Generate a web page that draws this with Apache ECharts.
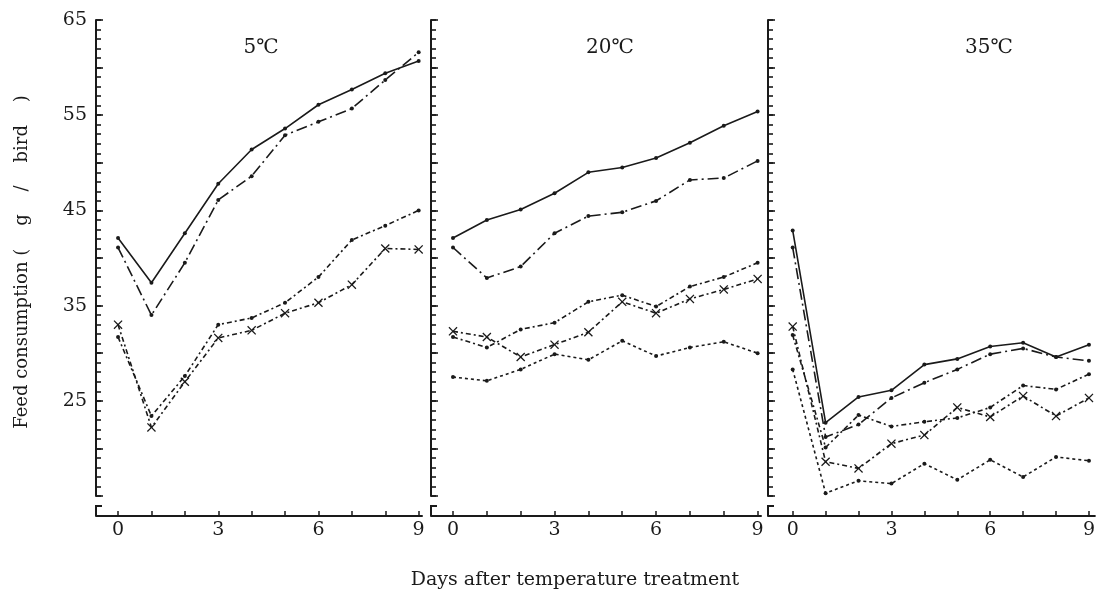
<!DOCTYPE html>
<html>
<head>
<meta charset="utf-8">
<script src="https://cdn.jsdelivr.net/npm/echarts@6/dist/echarts.min.js"></script>
<style>
  html, body { margin: 0; padding: 0; background: #fff; }
  #chart { width: 1098px; height: 593px; }
</style>
</head>
<body>
<div id="chart"></div>
<script>
const days = [0, 1, 2, 3, 4, 5, 6, 7, 8, 9]
const dayLabels = [0, 3, 6, 9]
const yLabels = [25, 35, 45, 55, 65]
const panelTitles = ['5℃', '20℃', '35℃']

// 5℃
const p1Solid = [42.1, 37.4, 42.6, 47.8, 51.4, 53.6, 56.1, 57.7, 59.4, 60.7]
const p1DashDot = [41.1, 34.0, 39.5, 46.1, 48.6, 52.9, 54.3, 55.7, 58.7, 61.6]
const p1DotDash = [31.7, 23.4, 27.6, 33.0, 33.7, 35.3, 38.0, 41.9, 43.4, 45.0]
const p1Cross = [33.0, 22.2, 27.0, 31.6, 32.4, 34.2, 35.3, 37.2, 41.0, 40.9]
const p1Dotted = []
// 20℃
const p2Solid = [42.1, 44.0, 45.1, 46.8, 49.0, 49.5, 50.5, 52.1, 53.9, 55.4]
const p2DashDot = [41.1, 37.9, 39.1, 42.6, 44.4, 44.8, 46.0, 48.2, 48.4, 50.2]
const p2DotDash = [31.7, 30.6, 32.5, 33.2, 35.4, 36.1, 34.9, 37.0, 38.0, 39.5]
const p2Cross = [32.3, 31.7, 29.6, 30.9, 32.2, 35.4, 34.2, 35.7, 36.7, 37.8]
const p2Dotted = [27.5, 27.1, 28.3, 29.9, 29.3, 31.3, 29.7, 30.6, 31.2, 30.0]
// 35℃
const p3Solid = [42.9, 22.7, 25.4, 26.1, 28.8, 29.4, 30.7, 31.1, 29.6, 30.9]
const p3DashDot = [41.1, 21.2, 22.5, 25.3, 26.9, 28.3, 29.9, 30.5, 29.6, 29.2]
const p3DotDash = [31.9, 20.1, 23.5, 22.3, 22.8, 23.2, 24.3, 26.6, 26.2, 27.8]
const p3Cross = [32.8, 18.6, 17.9, 20.5, 21.4, 24.3, 23.3, 25.5, 23.4, 25.3]
const p3Dotted = [28.3, 15.3, 16.6, 16.3, 18.4, 16.7, 18.8, 17.0, 19.1, 18.7]

const panels = [
  [p1Solid, p1DashDot, p1DotDash, p1Cross, p1Dotted],
  [p2Solid, p2DashDot, p2DotDash, p2Cross, p2Dotted],
  [p3Solid, p3DashDot, p3DotDash, p3Cross, p3Dotted]
]

const font = '"DejaVu Serif", "Liberation Serif", "Noto Sans CJK JP", serif'
const ink = '#1a1a1a'
const crossPath = 'path://M0,1L1,0L5,4L9,0L10,1L6,5L10,9L9,10L5,6L1,10L0,9L4,5Z'

// line looks, in the order of the arrays above
const looks = [
  { type: 'solid', symbol: 'circle', size: 4 },
  { type: [11, 4, 2, 4], symbol: 'circle', size: 4 },
  { type: [5, 3, 2, 3], symbol: 'circle', size: 4 },
  { type: [5, 3, 2, 3], symbol: crossPath, size: 9 },
  { type: [3, 3], symbol: 'circle', size: 4 }
]

// grid placement per panel
const boxes = [
  { left: 96, width: 326, min: -0.66, max: 9.1 },
  { left: 431, width: 330, min: -0.65, max: 9.1 },
  { left: 768, width: 330, min: -0.75, max: 9.18 }
]
const gridTop = 20
const gridHeight = 476
const xOffset = 20

const grid = boxes.map(b => ({ left: b.left, width: b.width, top: gridTop, height: gridHeight }))

const xAxis = boxes.map((b, i) => ({
  gridIndex: i,
  type: 'value',
  min: b.min,
  max: b.max,
  offset: xOffset,
  axisLine: { show: true, onZero: false, lineStyle: { color: ink, width: 2 } },
  axisTick: { show: true, inside: true, length: 5, customValues: days, lineStyle: { color: ink, width: 1.5 } },
  axisLabel: { customValues: dayLabels, margin: 5, fontFamily: font, fontSize: 19, color: ink },
  splitLine: { show: false }
}))

// main y axes: line, labels, a small tick per gram
const yMain = boxes.map((b, i) => ({
  gridIndex: i,
  type: 'value',
  position: 'left',
  min: 15,
  max: 65,
  interval: 1,
  axisLine: { show: true, onZero: false, lineStyle: { color: ink, width: 2 } },
  axisTick: { show: true, inside: true, length: 5, lineStyle: { color: ink, width: 1.6 } },
  axisLabel: {
    show: i === 0,
    margin: 9,
    fontFamily: font,
    fontSize: 19,
    color: ink,
    formatter: v => yLabels.includes(v) ? String(v) : ''
  },
  splitLine: { show: false }
}))
// longer ticks every 5 g
const yMajor = boxes.map((b, i) => ({
  gridIndex: i,
  type: 'value',
  position: 'left',
  offset: 0,
  min: 15,
  max: 65,
  interval: 5,
  axisLine: { show: false, onZero: false },
  axisTick: { show: true, inside: true, length: 7, lineStyle: { color: ink, width: 1.6 } },
  axisLabel: { show: false },
  splitLine: { show: false }
}))

const series = []
panels.forEach((lines, i) => {
  lines.forEach((vals, k) => {
    if (!vals.length) return
    const look = looks[k]
    series.push({
      type: 'line',
      xAxisIndex: i,
      yAxisIndex: i,
      data: vals.map((v, d) => [days[d], v]),
      symbol: look.symbol,
      symbolSize: look.size,
      showSymbol: true,
      lineStyle: { color: ink, width: 1.6, type: look.type },
      itemStyle: { color: ink },
      emphasis: { disabled: true },
      animation: false,
      z: 3
    })
  })
})

// the small bracket under each y axis, joining it to the x axis
const brackets = boxes.map(b => ({
  type: 'polyline',
  shape: { points: [[b.left + 6, gridTop + gridHeight + 10], [b.left, gridTop + gridHeight + 10], [b.left, gridTop + gridHeight + xOffset]] },
  style: { stroke: ink, lineWidth: 2, fill: null }
}))

const chart = echarts.init(document.getElementById('chart'), null, { renderer: 'canvas' })
chart.setOption({
  backgroundColor: '#fff',
  animation: false,
  title: panelTitles.map((t, i) => ({
    text: t,
    left: [256, 605, 984][i],
    top: 33,
    textAlign: 'center',
    textStyle: { fontFamily: font, fontSize: 20, fontWeight: 'normal', color: ink }
  })),
  grid: grid,
  xAxis: xAxis,
  yAxis: [...yMain, ...yMajor],
  series: series,
  graphic: [
    ...brackets,
    {
      type: 'text',
      x: 22,
      y: 262,
      rotation: Math.PI / 2,
      style: {
        text: 'Feed consumption (    g    /    bird    )',
        font: '18px ' + font,
        fill: ink,
        align: 'center',
        verticalAlign: 'middle'
      }
    },
    {
      type: 'text',
      x: 575,
      y: 580,
      style: {
        text: 'Days after temperature treatment',
        font: '19px ' + font,
        fill: ink,
        align: 'center',
        verticalAlign: 'middle'
      }
    }
  ]
})
</script>
</body>
</html>
